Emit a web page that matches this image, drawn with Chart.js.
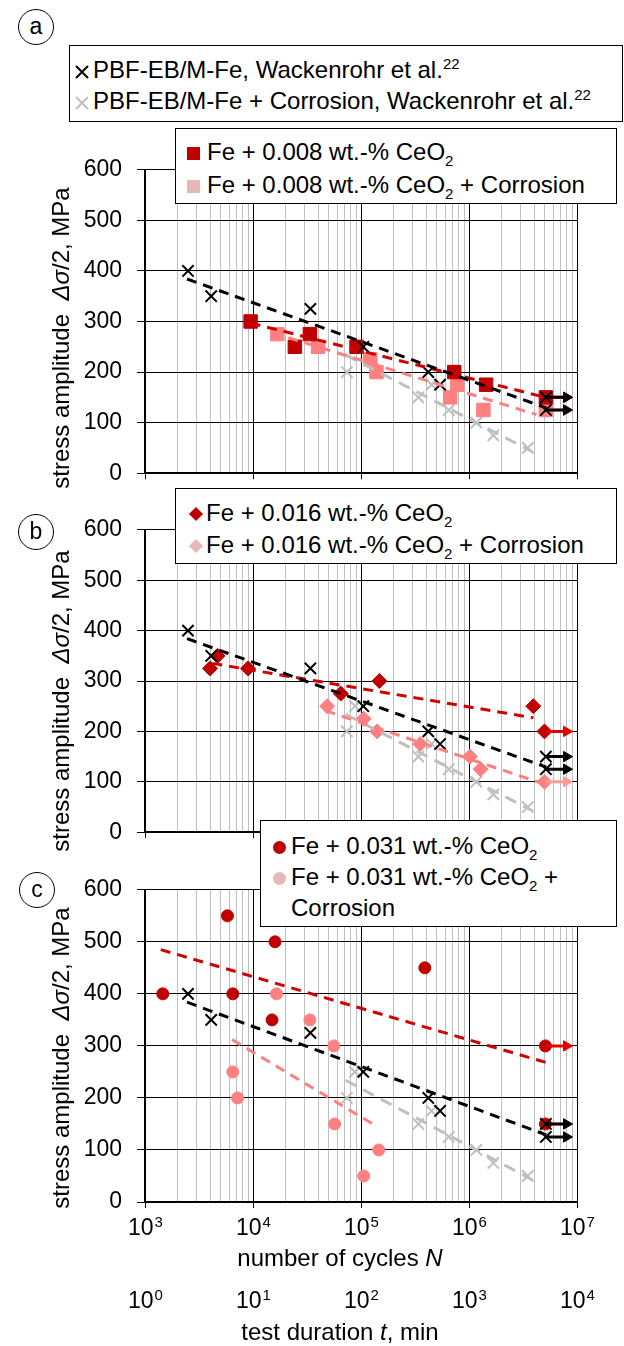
<!DOCTYPE html>
<html lang="en">
<head>
<meta charset="UTF-8">
<title>Fatigue data: Fe + CeO2 with and without corrosion</title>
<script src="https://cdn.jsdelivr.net/npm/chart.js"></script>
<style>
    body{
        margin:0;
        background:#fff;
        font-family:"Liberation Sans",Arial,sans-serif;
        color:#000;
    }
    #page{position:relative;width:624px;height:1346px;overflow:hidden;}
    canvas{position:absolute;left:0;}

    /* legend boxes */
    .legend{
        position:absolute;
        box-sizing:border-box;
        background:#fff;
        border:1.5px solid #000;
        font-size:24px;
        z-index:5;
        white-space:nowrap;
    }
    .row{position:relative;}
    .mk{position:absolute;top:50%;}
    .sq{width:13px;height:13px;margin:-7px 0 0 -7px;}
    .dia{width:10px;height:10px;margin:-5px 0 0 -5px;transform:rotate(45deg);}
    .dot{width:13px;height:13px;margin:-7px 0 0 -7px;border-radius:50%;}
    .xm{width:14px;height:14px;margin:-7px 0 0 -7px;}
    .sub{font-size:15px;position:relative;top:6px;}
    .sup{font-size:15px;position:relative;top:-9px;}

    .ytitle{
        position:absolute;
        left:61px;
        font-size:24px;
        line-height:26px;
        white-space:nowrap;
        transform:translate(-50%,-50%) rotate(-90deg);
    }
    .xtitle{
        position:absolute;
        left:340px;
        font-size:24px;
        line-height:26px;
        white-space:nowrap;
        transform:translateX(-50%);
    }
    .circ{
        position:absolute;
        width:34px;height:34px;
        margin:-18px 0 0 -18px;
        border:1.5px solid #000;
        border-radius:50%;
        font-size:23px;
        line-height:33px;
        text-align:center;
    }
</style>
</head>
<body>
<div id="page">
    <canvas id="chartA" width="624" height="361" style="top:141px"></canvas>
    <canvas id="chartB" width="624" height="360" style="top:501px"></canvas>
    <canvas id="chartC" width="624" height="485" style="top:861px"></canvas>

    <div class="circ" style="left:36px;top:27px">a</div>
    <div class="circ" style="left:36px;top:532px">b</div>
    <div class="circ" style="left:37px;top:890px">c</div>

    <!-- legends -->
    <div class="legend" style="left:69px;top:45px;width:554px;height:77px;padding-top:10px;line-height:28px">
        <div class="row" style="padding-left:23px">
            <svg class="mk xm" style="left:12px" viewBox="0 0 14 14"><path d="M1 1L13 13M13 1L1 13" stroke="#000" stroke-width="2"/></svg>
            PBF-EB/M-Fe, Wackenrohr et al.<span class="sup">22</span>
        </div>
        <div class="row" style="padding-left:23px">
            <svg class="mk xm" style="left:12px" viewBox="0 0 14 14"><path d="M1 1L13 13M13 1L1 13" stroke="#bfbfbf" stroke-width="2"/></svg>
            PBF-EB/M-Fe + Corrosion, Wackenrohr et al.<span class="sup">22</span>
        </div>
    </div>

    <div class="legend" style="left:175px;top:128px;width:442px;height:76px;padding-top:8px;line-height:30px">
        <div class="row" style="padding-left:31px">
            <span class="mk sq" style="left:18px;background:#c00000"></span>
            Fe + 0.008 wt.-% CeO<span class="sub">2</span>
        </div>
        <div class="row" style="padding-left:31px">
            <span class="mk sq" style="left:18px;background:#e6b9b8"></span>
            Fe + 0.008 wt.-% CeO<span class="sub">2</span> + Corrosion
        </div>
    </div>

    <div class="legend" style="left:175px;top:488px;width:442px;height:76px;padding-top:9px;line-height:29px">
        <div class="row" style="padding-left:30px">
            <span class="mk dia" style="left:20px;background:#c00000"></span>
            Fe + 0.016 wt.-% CeO<span class="sub">2</span>
        </div>
        <div class="row" style="padding-left:30px">
            <span class="mk dia" style="left:20px;background:#e6b9b8"></span>
            Fe + 0.016 wt.-% CeO<span class="sub">2</span> + Corrosion
        </div>
    </div>

    <div class="legend" style="left:260px;top:820px;width:357px;height:107px;padding-top:11px;line-height:28px">
        <div class="row" style="padding-left:30px">
            <span class="mk dot" style="left:19px;background:#c00000"></span>
            Fe + 0.031 wt.-% CeO<span class="sub">2</span>
        </div>
        <div class="row" style="padding-left:30px">
            <span class="mk dot" style="left:19px;background:#e6b9b8"></span>
            Fe + 0.031 wt.-% CeO<span class="sub">2</span> +
        </div>
        <div class="row" style="padding-left:30px">Corrosion</div>
    </div>

    <!-- axis titles -->
    <div class="ytitle" style="top:338px">stress amplitude&nbsp; <i>Δσ</i>/2, MPa</div>
    <div class="ytitle" style="top:701px">stress amplitude&nbsp; <i>Δσ</i>/2, MPa</div>
    <div class="ytitle" style="top:1058px">stress amplitude&nbsp; <i>Δσ</i>/2, MPa</div>
    <div class="xtitle" style="top:1245px">number of cycles <i>N</i></div>
    <div class="xtitle" style="top:1319px">test duration <i>t</i>, min</div>
</div>

<script>
/* ---- axes ---- */
const decades     = [1e3, 1e4, 1e5, 1e6, 1e7];
const cycleExp    = [3, 4, 5, 6, 7];       // N axis labels 10^x
const durationExp = [0, 1, 2, 3, 4];       // t axis labels 10^x (min)
const minorSteps  = [2, 3, 4, 5, 6, 7, 8, 9];
const yTicks      = [0, 100, 200, 300, 400, 500, 600];

/* ---- reference: PBF-EB/M-Fe (Wackenrohr et al.) ---- */
const refN      = [2.5e3, 4.1e3, 3.4e4, 1.05e5, 4.2e5, 5.4e5, 5.15e6, 5.15e6];
const refS      = [400, 350, 325, 250, 200, 175, 150, 125];
const refCorrN  = [7.4e4, 8.8e4, 3.4e5, 4.5e5, 6.5e5, 1.17e6, 1.68e6, 3.5e6];
const refCorrS  = [200, 250, 150, 175, 125, 100, 75, 50];
const refTrendN     = [2.45e3, 5.2e6];
const refTrendS     = [384, 129];
const refCorrTrendN = [7.2e4, 3.9e6];
const refCorrTrendS = [234, 42];
const refRunoutS    = [150, 125];

/* ---- (a) Fe + 0.008 wt.-% CeO2 ---- */
const aN      = [9.5e3, 2.44e4, 3.36e4, 9.1e4, 7.3e5, 1.44e6, 5.15e6];
const aS      = [300, 250, 275, 250, 200, 175, 150];
const aCorrN  = [1.68e4, 4.0e4, 1.22e5, 1.39e5, 6.7e5, 7.8e5, 1.36e6, 5.15e6];
const aCorrS  = [275, 250, 225, 200, 150, 175, 125, 125];
const aTrendN     = [9.5e3, 5.1e6];
const aTrendS     = [297, 150];
const aCorrTrendN = [1.5e4, 4.2e6];
const aCorrTrendS = [278, 116];
const aRunoutS     = [150];
const aCorrRunoutS = [125];

/* ---- (b) Fe + 0.016 wt.-% CeO2 ---- */
const bN      = [4.0e3, 4.7e3, 9.0e3, 6.5e4, 1.48e5, 3.94e6, 5.0e6];
const bS      = [325, 350, 325, 275, 300, 250, 200];
const bCorrN  = [4.86e4, 1.06e5, 1.41e5, 3.53e5, 1.02e6, 1.28e6, 5.0e6];
const bCorrS  = [250, 225, 200, 175, 150, 125, 100];
const bTrendN     = [4.2e3, 3.94e6];
const bTrendS     = [335, 227];
const bCorrTrendN = [4.7e4, 4.9e6];
const bCorrTrendS = [241, 96];
const bRunoutS     = [200];
const bCorrRunoutS = [100];

/* ---- (c) Fe + 0.031 wt.-% CeO2 ---- */
const cN      = [1.46e3, 5.8e3, 6.5e3, 1.5e4, 1.6e4, 3.9e5, 5.1e6, 5.1e6];
const cS      = [400, 550, 400, 350, 500, 450, 300, 150];
const cCorrN  = [6.5e3, 7.2e3, 1.65e4, 3.36e4, 5.6e4, 5.7e4, 1.06e5, 1.46e5];
const cCorrS  = [250, 200, 400, 350, 300, 150, 50, 100];
const cTrendN     = [1.4e3, 5.2e6];
const cTrendS     = [485, 268];
const cCorrTrendN = [6.4e3, 1.41e5];
const cCorrTrendS = [312, 145];
const cRunoutS     = [300];
const cCorrRunoutS = [150];

const runoutN  = 5.1e6;   // run-out arrows start
const arrowEnd = 8.0e6;   // and end here

/* colours */
const RED = '#c00000', RED_LINE = '#d00000', RED_ARROW = '#e80000';
const PINK = '#ff8080', PINK_ARROW = '#ff9a9a';
const GREY = '#bfbfbf';

Chart.defaults.font.family = "'Liberation Sans', Arial, sans-serif";
Chart.defaults.color = '#000';

const pts = (xs, ys) => xs.map((x, i) => ({x, y: ys[i]}));
const isDecade = v => Math.abs(Math.log10(v) - Math.round(Math.log10(v))) < 1e-9;

function markers(xs, ys, style, color, r, bw){
    return {data: pts(xs, ys), showLine: false, pointStyle: style,
        pointRadius: r, pointHoverRadius: r,
        pointBackgroundColor: color, pointBorderColor: color, pointBorderWidth: bw || 1};
}
function trend(xs, ys, color, dash){
    return {data: pts(xs, ys), showLine: true, borderColor: color, borderWidth: 3,
        borderDash: dash || [10, 7], pointRadius: 0, pointHoverRadius: 0, fill: false};
}
function arrows(ys, color){
    return ys.map(y => ({
        data: [{x: runoutN, y}, {x: arrowEnd, y}], showLine: true,
        borderColor: color, borderWidth: 3,
        pointRadius: [0, 6], pointHoverRadius: [0, 6], pointStyle: 'triangle', rotation: 90,
        pointBackgroundColor: color, pointBorderColor: color, pointBorderWidth: 1
    }));
}

/* superscript tick labels under panel c */
function drawPow(ctx, x, y, exp){
    ctx.save();
    ctx.fillStyle = '#000';
    ctx.textBaseline = 'alphabetic';
    ctx.textAlign = 'left';
    ctx.font = "23px 'Liberation Sans', Arial, sans-serif";
    const wb = ctx.measureText('10').width;
    ctx.font = "15px 'Liberation Sans', Arial, sans-serif";
    const we = ctx.measureText(String(exp)).width;
    const x0 = x - (wb + we) / 2;
    ctx.font = "23px 'Liberation Sans', Arial, sans-serif";
    ctx.fillText('10', x0, y);
    ctx.font = "15px 'Liberation Sans', Arial, sans-serif";
    ctx.fillText(String(exp), x0 + wb + 1, y - 8);
    ctx.restore();
}
const xLabels = {
    id: 'xLabels',
    afterDraw(chart){
        const sx = chart.scales.x;
        decades.forEach((d, i) => {
            const px = sx.getPixelForValue(d);
            drawPow(chart.ctx, px, 374, cycleExp[i]);
            drawPow(chart.ctx, px, 447, durationExp[i]);
        });
    }
};

function makeChart(id, datasets, xAxisHeight, plugins){
    return new Chart(document.getElementById(id), {
        type: 'scatter',
        data: {datasets},
        plugins: plugins || [],
        options: {
            responsive: false,
            animation: false,
            events: [],
            layout: {padding: {top: 20, right: 47, bottom: 0, left: 0}},
            plugins: {legend: {display: false}, tooltip: {enabled: false}},
            scales: {
                x: {
                    type: 'logarithmic', min: 1e3, max: 1e7,
                    afterBuildTicks: s => {
                        const t = [];
                        decades.forEach((d, i) => {
                            t.push({value: d, major: true});
                            if (i < decades.length - 1) minorSteps.forEach(m => t.push({value: d * m}));
                        });
                        s.ticks = t;
                    },
                    afterFit: s => { s.height = xAxisHeight; },
                    ticks: {display: false},
                    grid: {
                        color: c => (c.tick && isDecade(c.tick.value)) ? '#000' : GREY,
                        tickColor: c => (c.tick && isDecade(c.tick.value)) ? '#000' : 'rgba(0,0,0,0)',
                        lineWidth: 1, tickLength: 6
                    },
                    border: {display: true, color: '#000', width: 2}
                },
                y: {
                    min: 0, max: 600,
                    afterBuildTicks: s => { s.ticks = yTicks.map(v => ({value: v})); },
                    afterFit: s => { s.width = 145; },
                    ticks: {color: '#000', font: {size: 23}, padding: 15},
                    grid: {color: '#000', lineWidth: 1, tickLength: 8},
                    border: {display: true, color: '#000', width: 2}
                }
            }
        }
    });
}

/* draw order: first dataset ends up on top */
function panel(id, m, style, r, runS, corrRunS, trendN, trendS, corrTrendN, corrTrendS, xh, plugins){
    const ds = [
        trend(refTrendN, refTrendS, '#000'),
        trend(trendN, trendS, RED_LINE),
        trend(corrTrendN, corrTrendS, PINK),
        trend(refCorrTrendN, refCorrTrendS, GREY, [12, 8]),
        ...arrows(refRunoutS, '#000'),
        markers(refN, refS, 'crossRot', '#000', 8, 2),
        ...arrows(runS, RED_ARROW),
        markers(m[0], m[1], style, RED, r),
        ...arrows(corrRunS, PINK_ARROW),
        markers(m[2], m[3], style, PINK, r),
        markers(refCorrN, refCorrS, 'crossRot', GREY, 8, 2)
    ];
    return makeChart(id, ds, xh, plugins);
}

panel('chartA', [aN, aS, aCorrN, aCorrS], 'rect', 9.5, aRunoutS, aCorrRunoutS,
      aTrendN, aTrendS, aCorrTrendN, aCorrTrendS, 20);
panel('chartB', [bN, bS, bCorrN, bCorrS], 'rectRot', 7.5, bRunoutS, bCorrRunoutS,
      bTrendN, bTrendS, bCorrTrendN, bCorrTrendS, 20);
panel('chartC', [cN, cS, cCorrN, cCorrS], 'circle', 6, cRunoutS, cCorrRunoutS,
      cTrendN, cTrendS, cCorrTrendN, cCorrTrendS, 144, [xLabels]);
</script>
</body>
</html>
